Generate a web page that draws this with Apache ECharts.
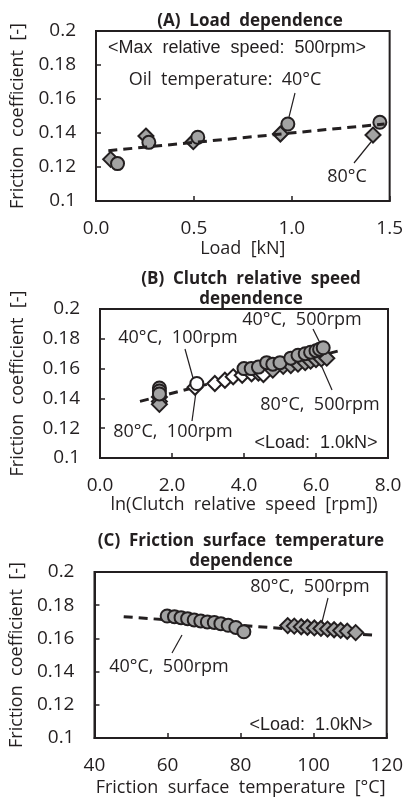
<!DOCTYPE html>
<html>
<head>
<meta charset="utf-8">
<script src="https://cdn.jsdelivr.net/npm/echarts@6/dist/echarts.min.js"></script>
<style>
  html, body { margin: 0; padding: 0; background: #fff; }
  #chart { width: 406px; height: 798px; }
</style>
</head>
<body>
<div id="chart"></div>
<script>
// 数据 (A) 载荷依赖
var loadA40 = [0.11, 0.27, 0.52, 0.98, 1.45];
var fricA40 = [0.122, 0.1345, 0.1375, 0.1453, 0.1463];
var loadA80 = [0.075, 0.255, 0.497, 0.942, 1.415];
var fricA80 = [0.1245, 0.1382, 0.1349, 0.1394, 0.1388];
var trendAx = [0.063, 1.474];
var trendAy = [0.1296, 0.1453];

// (B) 相对转速依赖
var lnSpeedB40 = [1.65, 1.65, 1.65, 2.69, 4.0, 4.2, 4.4, 4.63, 4.8, 5.0, 5.3, 5.5, 5.7, 5.85, 6.0, 6.1, 6.2];
var fricB40 = [0.147, 0.145, 0.143, 0.150, 0.160, 0.160, 0.161, 0.164, 0.163, 0.164, 0.167, 0.169, 0.170, 0.171, 0.172, 0.173, 0.174];
var lnSpeedB80 = [1.65, 1.65, 1.65, 2.64, 3.19, 3.47, 3.70, 3.95, 4.21, 4.4, 4.54, 4.8, 5.09, 5.3, 5.5, 5.7, 5.85, 6.0, 6.15, 6.3];
var fricB80 = [0.141, 0.138, 0.136, 0.1475, 0.150, 0.1522, 0.1545, 0.1555, 0.1565, 0.157, 0.156, 0.159, 0.1615, 0.162, 0.163, 0.164, 0.165, 0.166, 0.1665, 0.167];
var trendBx = [1.11, 6.76];
var trendBy = [0.138, 0.1727];

// (C) 摩擦面温度依赖
var tempC40 = [59.9, 61.9, 63.7, 65.5, 67.3, 69.1, 70.9, 72.8, 74.6, 76.6, 78.7, 80.9];
var fricC40 = [0.1735, 0.1731, 0.1725, 0.1719, 0.1711, 0.1705, 0.1699, 0.1696, 0.1689, 0.1679, 0.1666, 0.1640];
var tempC80 = [92.9, 94.7, 96.6, 98.3, 100.2, 102.0, 103.8, 105.6, 107.4, 109.2, 111.5];
var fricC80 = [0.1677, 0.1674, 0.1670, 0.1667, 0.1663, 0.1660, 0.1656, 0.1652, 0.1648, 0.1643, 0.1635];
var trendCx = [48, 116];
var trendCy = [0.1731, 0.162];

var INK = "#231f20";
var GRAY = "#a3a3a3";
var FONT = "Open Sans";

function pairs(xs, ys) {
  return xs.map(function (x, i) { return [x, ys[i]]; });
}

function xAxisOf(idx, min, max, interval, name, digits, gap) {
  return {
    gridIndex: idx, type: "value", min: min, max: max, interval: interval,
    name: name, nameLocation: "middle", nameGap: gap,
    nameTextStyle: { fontFamily: FONT, fontSize: 18, color: INK },
    axisLine: { lineStyle: { color: INK, width: 2 } },
    axisTick: { inside: true, length: 5, lineStyle: { color: INK, width: 1.5 } },
    axisLabel: {
      margin: 18, fontFamily: FONT, fontSize: 19, color: INK,
      formatter: function (v) { return digits ? v.toFixed(digits) : String(v); }
    },
    splitLine: { show: false }
  };
}

function yAxisOf(idx, gap) {
  return {
    gridIndex: idx, type: "value", min: 0.1, max: 0.2, interval: 0.02,
    name: "Friction  coefficient  [-]", nameLocation: "middle", nameGap: gap,
    nameTextStyle: { fontFamily: FONT, fontSize: 18, color: INK },
    axisLine: { lineStyle: { color: INK, width: 2 } },
    axisTick: { inside: true, length: 5, lineStyle: { color: INK, width: 1.5 } },
    axisLabel: {
      margin: 20, fontFamily: FONT, fontSize: 19, color: INK,
      formatter: function (v) { return String(+v.toFixed(2)); }
    },
    splitLine: { show: false }
  };
}

function markers(idx, data, symbol, size, fill, z) {
  return {
    type: "scatter", xAxisIndex: idx, yAxisIndex: idx, data: data,
    symbol: symbol, symbolSize: size, z: z,
    itemStyle: { color: fill, borderColor: INK, borderWidth: 2, opacity: 1 }
  };
}

function trend(idx, data, z) {
  return {
    type: "line", xAxisIndex: idx, yAxisIndex: idx, data: data,
    symbol: "none", z: z, silent: true,
    lineStyle: { color: INK, width: 3, type: [9, 6] }
  };
}

// B 中低转速段为白色填充
function fillB80(p) {
  var x = p.value[0];
  return (x > 2.2 && x < 4.7) ? "#ffffff" : GRAY;
}
function fillB40(p) {
  var x = p.value[0];
  return (x > 2.2 && x < 3.0) ? "#ffffff" : GRAY;
}

function txt(x, y, s, family) {
  return {
    type: "text", x: x, y: y,
    style: {
      text: s, fill: INK, fontSize: 18, fontFamily: family || FONT,
      align: "center", verticalAlign: "middle"
    }
  };
}
function seg(x1, y1, x2, y2) {
  return {
    type: "line", shape: { x1: x1, y1: y1, x2: x2, y2: y2 },
    style: { stroke: INK, lineWidth: 1.2 }
  };
}

var myChart = echarts.init(document.getElementById("chart"));

var titleStyle = { fontFamily: FONT, fontSize: 17, fontWeight: "bold", color: INK, lineHeight: 20 };

var option = {
  animation: false,
  backgroundColor: "#fff",
  title: [
    { text: "(A)  Load  dependence", left: 245, top: 6, textAlign: "center", textStyle: titleStyle },
    { text: "(B)  Clutch  relative  speed\ndependence", left: 246, top: 264, textAlign: "center", textStyle: titleStyle },
    { text: "(C)  Friction  surface  temperature\ndependence", left: 236, top: 526, textAlign: "center", textStyle: titleStyle }
  ],
  grid: [
    { left: 96, right: 16, top: 31, height: 170, show: true, borderColor: INK, borderWidth: 2 },
    { left: 100, right: 18, top: 309, height: 149, show: true, borderColor: INK, borderWidth: 2 },
    { left: 93, right: 18, top: 572, height: 169, show: true, borderColor: INK, borderWidth: 2 }
  ],
  xAxis: [
    xAxisOf(0, 0, 1.5, 0.5, "Load  [kN]", 1, 39),
    xAxisOf(1, 0, 8, 2, "ln(Clutch  relative  speed  [rpm])", 1, 38),
    xAxisOf(2, 40, 120, 20, "Friction  surface  temperature  [°C]", 0, 41)
  ],
  yAxis: [yAxisOf(0, 69), yAxisOf(1, 73), yAxisOf(2, 66)],
  series: [
    markers(0, pairs(loadA80, fricA80), "diamond", 15, GRAY, 2),
    markers(0, pairs(loadA40, fricA40), "circle", 13, GRAY, 3),
    trend(0, pairs(trendAx, trendAy), 4),

    trend(1, pairs(trendBx, trendBy), 1),
    markers(1, pairs(lnSpeedB80, fricB80), "diamond", 15, fillB80, 2),
    markers(1, pairs(lnSpeedB40, fricB40), "circle", 13, fillB40, 3),

    trend(2, pairs(trendCx, trendCy), 1),
    markers(2, pairs(tempC80, fricC80), "diamond", 15, GRAY, 2),
    markers(2, pairs(tempC40, fricC40), "circle", 13, GRAY, 3)
  ],
  graphic: [
    // A
    txt(237, 48, "<Max  relative  speed:  500rpm>", "Liberation Sans"),
    txt(225, 80, "Oil  temperature:  40°C"),
    seg(295, 93, 289, 117),
    txt(347, 177, "80°C"),
    seg(354, 163, 371, 142),
    // B
    txt(302, 320, "40°C,  500rpm"),
    seg(313, 329, 321, 345),
    txt(178, 338, "40°C,  100rpm"),
    seg(185, 349, 193, 378),
    txt(173, 432, "80°C,  100rpm"),
    seg(196, 392, 192, 421),
    txt(320, 405, "80°C,  500rpm"),
    seg(322, 367, 332, 390),
    txt(316, 443, "<Load:  1.0kN>", "Liberation Sans"),
    // C
    txt(310, 587, "80°C,  500rpm"),
    seg(328, 598, 322, 622),
    txt(169, 667, "40°C,  500rpm"),
    seg(182, 635, 172, 653),
    txt(311, 725, "<Load:  1.0kN>", "Liberation Sans")
  ]
};

myChart.setOption(option);
window.addEventListener("resize", function () {
  myChart.resize();
});
</script>
</body>
</html>
